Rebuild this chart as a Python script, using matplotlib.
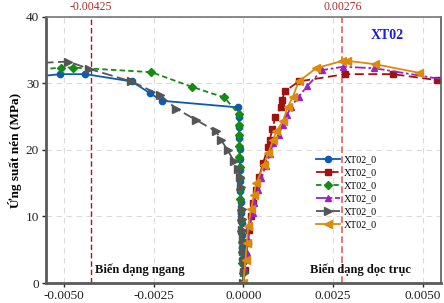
import matplotlib
matplotlib.use("Agg")
import matplotlib.pyplot as plt

# ---- data ----
blue_x = [0.0, -0.00002, -0.00003, -0.00004, -0.00005, -0.00005, -0.00006, -0.00007, -0.00008,
          -0.00008, -0.00009, -0.00010, -0.00010, -0.00011, -0.00012, -0.00013, -0.00014,
          -0.00227, -0.00259, -0.00311, -0.00440, -0.00511, -0.00600]
blue_y = [0.0, 1.8, 3.6, 5.4, 7.2, 9.0, 10.6, 12.2, 13.8, 15.4, 17.0, 18.6, 20.2, 21.8, 23.4,
          25.0, 26.4, 27.4, 28.5, 30.3, 31.4, 31.4, 30.9]

red_x = [0.0, 0.00004, 0.00008, 0.00012, 0.00017, 0.00022, 0.00028, 0.00036, 0.00044, 0.00055,
         0.00069, 0.00073, 0.00081, 0.00089, 0.00104, 0.00108, 0.00115, 0.00154, 0.00283,
         0.00418, 0.00540]
red_y = [0.0, 2.0, 4.0, 6.0, 8.0, 10.0, 12.0, 14.0, 16.0, 18.0, 20.5, 21.5, 23.1, 25.0, 26.4,
         27.5, 28.8, 30.3, 31.4, 31.4, 30.5]

green_x = [0.0, -0.00002, -0.00003, -0.00004, -0.00005, -0.00006, -0.00006, -0.00007, -0.00008,
           -0.00009, -0.00010, -0.00010, -0.00011, -0.00011, -0.00012, -0.00012, -0.00013,
           -0.00053, -0.00144, -0.00256, -0.00476, -0.00508, -0.00600]
green_y = [0.0, 1.5, 3.0, 4.6, 6.2, 7.8, 9.4, 11.0, 12.6, 14.2, 15.8, 17.4, 19.0, 20.6, 22.2,
           23.8, 25.4, 27.9, 29.5, 31.7, 32.4, 32.4, 31.9]

purple_x = [0.0, 0.00004, 0.00009, 0.00013, 0.00017, 0.00026, 0.00030, 0.00040, 0.00050,
            0.00062, 0.00074, 0.00083, 0.00098, 0.00110, 0.00122, 0.00133, 0.00154, 0.00178,
            0.00219, 0.00277, 0.00365, 0.00580]
purple_y = [0.0, 2.0, 4.5, 6.5, 8.5, 10.5, 12.0, 14.0, 15.8, 17.6, 19.4, 21.0, 22.3, 23.8,
            25.3, 26.5, 28.0, 29.6, 32.0, 32.5, 32.3, 30.4]

gray_x = [0.0, 0.00002, 0.00001, -0.00001, -0.00002, -0.00003, -0.00004, -0.00005, -0.00006,
          -0.00009, -0.00016, -0.00027, -0.00044, -0.00062, -0.00076, -0.00131, -0.00187,
          -0.00233, -0.00312, -0.00430, -0.00488, -0.00600]
gray_y = [0.0, 1.6, 3.2, 4.8, 6.4, 8.0, 9.6, 11.2, 14.5, 15.9, 17.1, 18.4, 20.0, 21.5, 22.8,
          24.5, 26.2, 28.3, 30.3, 32.2, 33.3, 33.0]

orange_x = [0.0, 0.00006, 0.00010, 0.00013, 0.00022, 0.00029, 0.00036, 0.00057, 0.00070,
            0.00083, 0.00092, 0.00110, 0.00124, 0.00138, 0.00154, 0.00203, 0.00276, 0.00290,
            0.00367, 0.00490]
orange_y = [0.0, 3.5, 6.0, 8.5, 11.2, 13.2, 15.0, 17.7, 19.6, 21.5, 22.8, 24.3, 26.5, 28.0,
            30.3, 32.3, 33.4, 33.4, 32.9, 31.6]

series_labels = ["XT02_0"] * 6
x_ticks = [-0.0050, -0.0025, 0.0000, 0.0025, 0.0050]
x_ticklabels = ["-0.0050", "-0.0025", "0.0000", "0.0025", "0.0050"]
y_ticks = [0, 10, 20, 30, 40]
ref_lateral = -0.00425
ref_axial = 0.00276

serif = ["Liberation Serif", "DejaVu Serif"]
plt.rcParams["font.family"] = serif

fig = plt.figure(figsize=(4.44, 3.03), dpi=100)
ax = fig.add_axes([0.1036, 0.066, 0.889, 0.878])

ax.set_xlim(-0.0055, 0.0055)
ax.set_ylim(0, 40)
ax.grid(True, linestyle=(0, (5, 4)), color="#dcdcdc", linewidth=0.8)
ax.set_axisbelow(True)

ax.axvline(ref_lateral, color="#b01515", linestyle=(0, (4, 2)), linewidth=1.0, zorder=1)
ax.axvline(ref_axial, color="#e06060", linestyle=(0, (4, 2)), linewidth=1.2, zorder=1)

ms = 4.5
lw = 1.3
ax.plot(blue_x, blue_y, color="#0b5cb0", linestyle="-", marker="o", ms=ms, lw=lw, label=series_labels[0])
ax.plot(red_x, red_y, color="#9e1212", linestyle=(0, (5, 2.5)), marker="s", ms=ms, lw=lw, label=series_labels[1])
ax.plot(green_x, green_y, color="#148c14", linestyle=(0, (3, 1.8)), marker="D", ms=ms - 0.5, lw=lw, label=series_labels[2])
ax.plot(purple_x, purple_y, color="#9b22c6", linestyle=(0, (6, 1.5, 1.5, 1.5)), marker="^", ms=ms + 0.5, lw=lw, label=series_labels[3])
ax.plot(gray_x, gray_y, color="#555555", linestyle=(0, (6, 2.5)), marker=">", ms=ms + 1, lw=lw, label=series_labels[4])
ax.plot(orange_x, orange_y, color="#dc8a0a", linestyle="-", marker="<", ms=ms + 1, lw=lw, label=series_labels[5])

ax.set_xticks(x_ticks)
ax.set_xticklabels(x_ticklabels)
ax.set_yticks(y_ticks)
ax.tick_params(labelsize=9.5, colors="#222222", length=3, width=1, direction="out", pad=2)
for s in ax.spines.values():
    s.set_color("#5a5a5a")
    s.set_linewidth(1.2)
ax.spines["left"].set_linewidth(2.0)
ax.spines["bottom"].set_linewidth(2.0)
ax.spines["top"].set_color("#777777")

ax.set_ylabel("Ứng suất nén (MPa)", fontsize=9.5, fontweight="bold", labelpad=3)

ax.text(ref_lateral, 1.015, "-0.00425", transform=ax.get_xaxis_transform(), ha="center",
        va="bottom", color="#a83030", fontsize=8.5)
ax.text(ref_axial, 1.015, "0.00276", transform=ax.get_xaxis_transform(), ha="center",
        va="bottom", color="#a83030", fontsize=8.5)

ax.text(0.906, 0.93, "XT02", transform=ax.transAxes, ha="right", va="center",
        color="#1a1adc", fontsize=10, fontweight="bold")
ax.text(0.125, 0.05, "Biến dạng ngang", transform=ax.transAxes, ha="left", va="center",
        fontsize=9, fontweight="bold", color="#111111")
ax.text(0.668, 0.05, "Biến dạng dọc trục", transform=ax.transAxes, ha="left", va="center",
        fontsize=9, fontweight="bold", color="#111111")

leg = ax.legend(loc="upper left", bbox_to_anchor=(0.685, 0.48), frameon=False,
                fontsize=7.2, handlelength=2.4, labelspacing=0.4, handletextpad=0.3,
                borderpad=0, borderaxespad=0)

fig.savefig("out.png", dpi=100)
